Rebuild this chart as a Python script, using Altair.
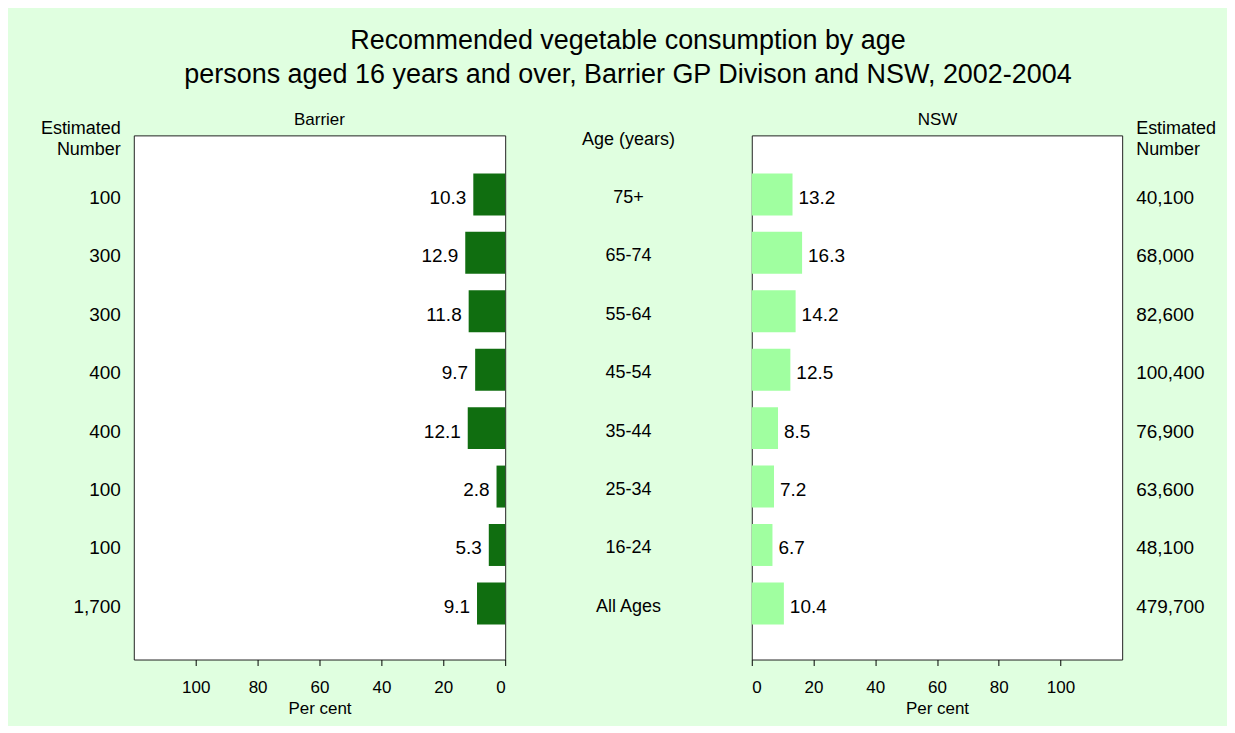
import altair as alt
import pandas as pd

# ---- data ----
ages = ["75+", "65-74", "55-64", "45-54", "35-44", "25-34", "16-24", "All Ages"]
barrier_pct = [10.3, 12.9, 11.8, 9.7, 12.1, 2.8, 5.3, 9.1]
nsw_pct = [13.2, 16.3, 14.2, 12.5, 8.5, 7.2, 6.7, 10.4]
barrier_n = ["100", "300", "300", "400", "400", "100", "100", "1,700"]
nsw_n = ["40,100", "68,000", "82,600", "100,400", "76,900", "63,600", "48,100", "479,700"]
tick_values = [0, 20, 40, 60, 80, 100]

title_lines = ["Recommended vegetable consumption by age",
               "persons aged 16 years and over, Barrier GP Divison and NSW, 2002-2004"]
panel_titles = ["Barrier", "NSW"]
middle_header = "Age (years)"
number_header = ["Estimated", "Number"]
x_title = "Per cent"

df = pd.DataFrame({"age": ages, "barrier": barrier_pct, "nsw": nsw_pct,
                   "barrier_n": barrier_n, "nsw_n": nsw_n})
one = pd.DataFrame({"k": [0]})

FONT = "Liberation Sans"
DARK = "#106e10"
LIGHT = "#a0ffa0"
BG = "#e0ffe0"
H = 525
W_SIDE = 125
W_RIGHT = 104
W_PANEL = 372
W_MID = 247
DY = 3.5

yscale = alt.Scale(type="band", domain=ages, paddingInner=0.282, paddingOuter=0.626, align=0.52)
Y = alt.Y("age:N", scale=yscale, axis=None)

frame = alt.ViewBackground(fill="white", stroke="#222222", strokeWidth=1)
noframe = alt.ViewBackground(fill="transparent", stroke="transparent")


def xaxis():
    return alt.Axis(values=tick_values, grid=False, domain=False, tickSize=6,
                    tickColor="black", labelFontSize=17, labelColor="black",
                    labelPadding=14, title=x_title, titleFontSize=17,
                    titleFontWeight="normal", titleColor="black", titlePadding=5,
                    labelFont=FONT, titleFont=FONT)


# ---- left numbers column ----
colA = alt.layer(
    alt.Chart(df).mark_text(align="right", baseline="middle", dy=DY, fontSize=19, color="black").encode(
        x=alt.value(112), y=Y, text="barrier_n:N"),
    alt.Chart(one).mark_text(align="right", baseline="middle", fontSize=18, lineHeight=21,
                             color="black").encode(
        x=alt.value(112), y=alt.value(-6), text=alt.value(number_header)),
).properties(width=W_SIDE, height=H, view=noframe)

# ---- left bar panel (Barrier) ----
xl = alt.X("barrier:Q", scale=alt.Scale(domain=[0, 120], reverse=True, nice=False), axis=xaxis())
colB = alt.layer(
    alt.Chart(df).mark_bar(color=DARK).encode(x=xl, y=Y),
    alt.Chart(df).mark_text(align="right", baseline="middle", dx=-7, dy=DY, fontSize=19,
                            color="black").encode(
        x=xl, y=Y, text=alt.Text("barrier:Q", format=".1f")),
    alt.Chart(one).mark_text(align="center", baseline="middle", fontSize=17, color="black").encode(
        x=alt.value(W_PANEL / 2), y=alt.value(-15), text=alt.value(panel_titles[0])),
).properties(width=W_PANEL, height=H, view=frame)

# ---- middle labels ----
colC = alt.layer(
    alt.Chart(df).mark_text(align="center", baseline="middle", dy=DY, fontSize=18, color="black").encode(
        x=alt.value(W_MID / 2), y=Y, text="age:N"),
    alt.Chart(one).mark_text(align="center", baseline="middle", fontSize=18, color="black").encode(
        x=alt.value(W_MID / 2), y=alt.value(5), text=alt.value(middle_header)),
).properties(width=W_MID, height=H, view=noframe)

# ---- right bar panel (NSW) ----
xr = alt.X("nsw:Q", scale=alt.Scale(domain=[0, 120], nice=False), axis=xaxis())
colD = alt.layer(
    alt.Chart(df).mark_bar(color=LIGHT).encode(x=xr, y=Y),
    alt.Chart(df).mark_text(align="left", baseline="middle", dx=6, dy=DY, fontSize=19,
                            color="black").encode(
        x=xr, y=Y, text=alt.Text("nsw:Q", format=".1f")),
    alt.Chart(one).mark_text(align="center", baseline="middle", fontSize=17, color="black").encode(
        x=alt.value(W_PANEL / 2), y=alt.value(-15), text=alt.value(panel_titles[1])),
).properties(width=W_PANEL - 1, height=H, view=frame)

# ---- right numbers column ----
colE = alt.layer(
    alt.Chart(df).mark_text(align="left", baseline="middle", dy=DY, fontSize=19, color="black").encode(
        x=alt.value(14), y=Y, text="nsw_n:N"),
    alt.Chart(one).mark_text(align="left", baseline="middle", fontSize=18, lineHeight=21,
                             color="black").encode(
        x=alt.value(14), y=alt.value(-6), text=alt.value(number_header)),
).properties(width=W_RIGHT, height=H, view=noframe)

chart = alt.hconcat(colA, colB, colC, colD, colE, spacing=0, bounds="flush").properties(
    title=alt.TitleParams(text=title_lines, fontSize=27, font=FONT, fontWeight="normal",
                          color="black", lineHeight=34, anchor="middle", offset=22, dx=10.5),
    padding={"left": 0, "top": 18, "right": 0, "bottom": 8},
).configure(
    background=BG, font=FONT
).configure_text(font=FONT)

chart.save("out.html", embed_options={"renderer": "svg", "actions": False})
